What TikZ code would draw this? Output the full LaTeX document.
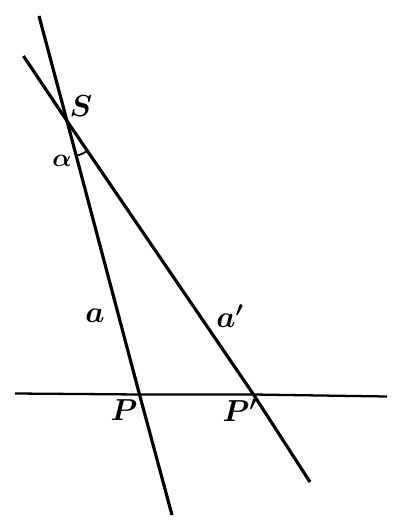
\documentclass[tikz,border=0pt]{standalone}
\usetikzlibrary{calc}
\tikzset{
    line/.style={line width=1.8pt},
    lbl/.style={font=\fontsize{18}{21}\selectfont\boldmath},
    small/.style={font=\fontsize{15}{17}\selectfont\boldmath}
}
\begin{document}
\begin{tikzpicture}[x=0.2mm, y=-0.2mm]
                    \useasboundingbox (0, 0) rectangle (404, 522);
                    \coordinate (S) at (67, 121);
                    \coordinate (P) at (139.5, 394.5);
                    \coordinate (Pp) at (253.5, 394.5);
                    \coordinate (aTop) at (39, 16);
                    \coordinate (aBot) at (172, 515);
                    \coordinate (bTop) at (23.5, 56);
                    \coordinate (bBot) at (310, 482);
                    \coordinate (hL) at (15, 393.5);
                    \coordinate (hR) at (387, 396.5);
                    \draw [line] (aTop) -- (S) -- (P) -- (aBot);
                    \draw [line] (bTop) -- (S) -- (Pp) -- (bBot);
                    \draw [line width=1.3pt] (hL) -- (P) -- (Pp) -- (hR);
                    \draw [line width=1pt] ($(S)!7.2mm!(P)$) to [bend right=10] ($(S)!7.2mm!(Pp)$);
                    \node [lbl] (Slbl) at (81, 106) {$S$};
                    \node [small] (alpha) at (62, 161) {$\alpha$};
                    \node [lbl] (albl) at (95, 316) {$a$};
                    \node [lbl] (aplbl) at (230, 316) {$a'$};
                    \node [lbl] (Plbl) at (124, 410) {$P$};
                    \node [lbl] (Pplbl) at (240, 410) {$P'$};
                \end{tikzpicture}
\end{document}
